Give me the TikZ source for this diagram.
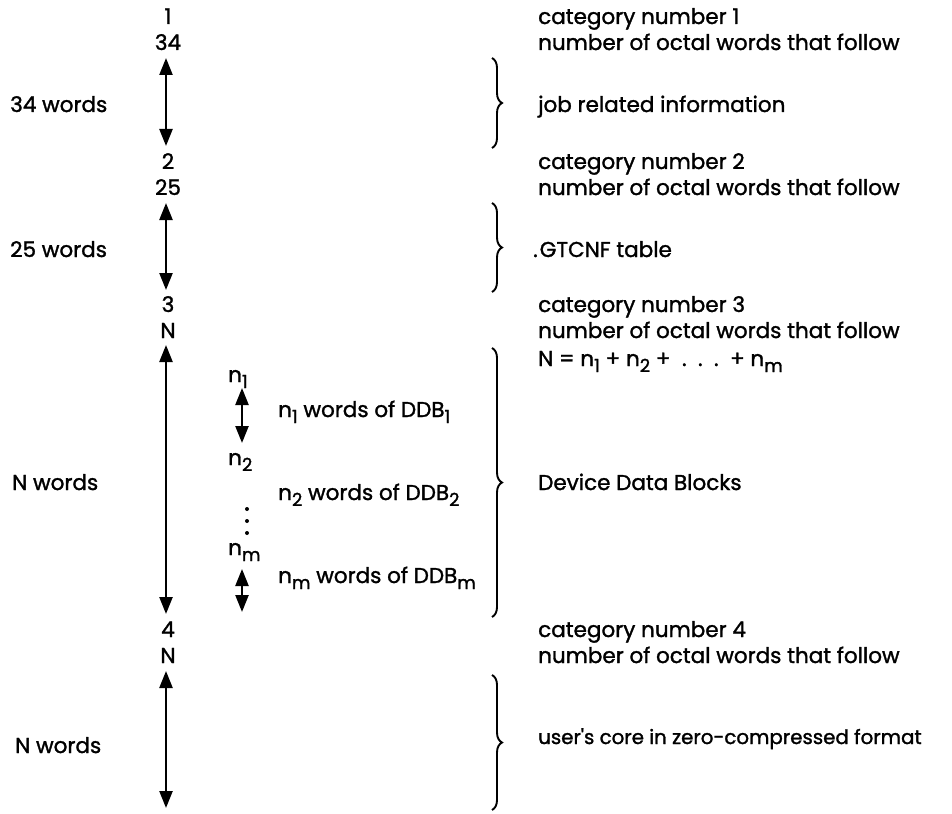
\documentclass[tikz,border=0pt]{standalone}
\usepackage{fontspec}
\setmainfont{Poppins}[FakeBold=1.4]
\usetikzlibrary{arrows.meta,decorations.pathreplacing}
\newcommand{\lowsub}[1]{\raisebox{-6pt}{\fontsize{18}{18}\selectfont #1}}
\begin{document}
\begin{tikzpicture}[x=1pt,y=-1pt,
  txt/.style={font=\fontsize{21.5}{24}\selectfont, inner sep=0pt},
  num/.style={txt, anchor=base},
  lt/.style={txt, anchor=base west},
  dbl/.style={line width=2.4pt, {Triangle[length=17pt,width=13pt]}-{Triangle[length=17pt,width=13pt]}},
  brc/.style={line width=1.9pt, decorate, decoration={brace, amplitude=10pt}},
  dotn/.style={circle, fill, inner sep=0pt, minimum size=4pt}
]
\useasboundingbox (0,0) rectangle (952,813);
% ---------- block 1
\node[num] (d1) at (168,24) {1};
\node[num] (d34) at (168,50) {34};
\node[lt] (c1) at (538,24) {category number 1};
\node[lt] (o1) at (538,50) {number of octal words that follow};
\coordinate (a1t) at (166,58);
\coordinate (a1b) at (166,146);
\draw[dbl] (a1t) -- (a1b);
\node[lt] (w1) at (10,112) {34 words};
\coordinate (b1t) at (492,58);
\coordinate (b1b) at (492,148);
\draw[brc] (b1t) -- (b1b);
\node[lt] (j1) at (538,112) {job related information};
% ---------- block 2
\node[num] (d2) at (168,169) {2};
\node[num] (d25) at (168,195) {25};
\node[lt] (c2) at (538,169) {category number 2};
\node[lt] (o2) at (538,195) {number of octal words that follow};
\coordinate (a2t) at (166,203);
\coordinate (a2b) at (166,290);
\draw[dbl] (a2t) -- (a2b);
\node[lt] (w2) at (10,257) {25 words};
\coordinate (b2t) at (492,203);
\coordinate (b2b) at (492,292);
\draw[brc] (b2t) -- (b2b);
\node[lt] (g2) at (533,257) {.\kern2pt GTCNF table};
% ---------- block 3
\node[num] (d3) at (168,312) {3};
\node[num] (dN3) at (168,338) {N};
\node[lt] (c3) at (538,312) {category number 3};
\node[lt] (o3) at (538,338) {number of octal words that follow};
\node[lt] (eq3) at (538,366) {N = n\lowsub{1} + n\lowsub{2} + \ .\ \ .\ \ .\ \ + n\lowsub{m}};
\coordinate (a3t) at (166,345);
\coordinate (a3b) at (166,614);
\draw[dbl] (a3t) -- (a3b);
\node[lt] (w3) at (12,490) {N words};
\coordinate (b3t) at (492,348);
\coordinate (b3b) at (492,617);
\draw[brc] (b3t) -- (b3b);
\node[lt] (dd3) at (538,490) {Device Data Blocks};
% inner
\node[lt] (n1) at (228,382) {n\lowsub{1}};
\coordinate (i1t) at (242,388);
\coordinate (i1b) at (242,443);
\draw[dbl] (i1t) -- (i1b);
\node[lt] (t1) at (278,417) {n\lowsub{1} words of DDB\lowsub{1}};
\node[lt] (n2) at (228,465) {n\lowsub{2}};
\node[lt] (t2) at (278,500) {n\lowsub{2} words of DDB\lowsub{2}};
\node[dotn] (p1) at (247,509) {};
\node[dotn] (p2) at (247,521) {};
\node[dotn] (p3) at (247,533) {};
\node[lt] (nm) at (228,555) {n\lowsub{m}};
\coordinate (imt) at (242,569);
\coordinate (imb) at (242,612);
\draw[dbl] (imt) -- (imb);
\node[lt] (tm) at (278,583) {n\lowsub{m} words of DDB\lowsub{m}};
% ---------- block 4
\node[num] (d4) at (168,637) {4};
\node[num] (dN4) at (168,663) {N};
\node[lt] (c4) at (538,637) {category number 4};
\node[lt] (o4) at (538,663) {number of octal words that follow};
\coordinate (a4t) at (166,671);
\coordinate (a4b) at (166,808);
\draw[dbl] (a4t) -- (a4b);
\node[lt] (w4) at (15,753) {N words};
\coordinate (b4t) at (492,675);
\coordinate (b4b) at (492,810);
\draw[brc] (b4t) -- (b4b);
\node[lt, font=\fontsize{19.8}{24}\selectfont] (u4) at (538,744) {user\textquotesingle s core in zero-compressed format};
\end{tikzpicture}
\end{document}
